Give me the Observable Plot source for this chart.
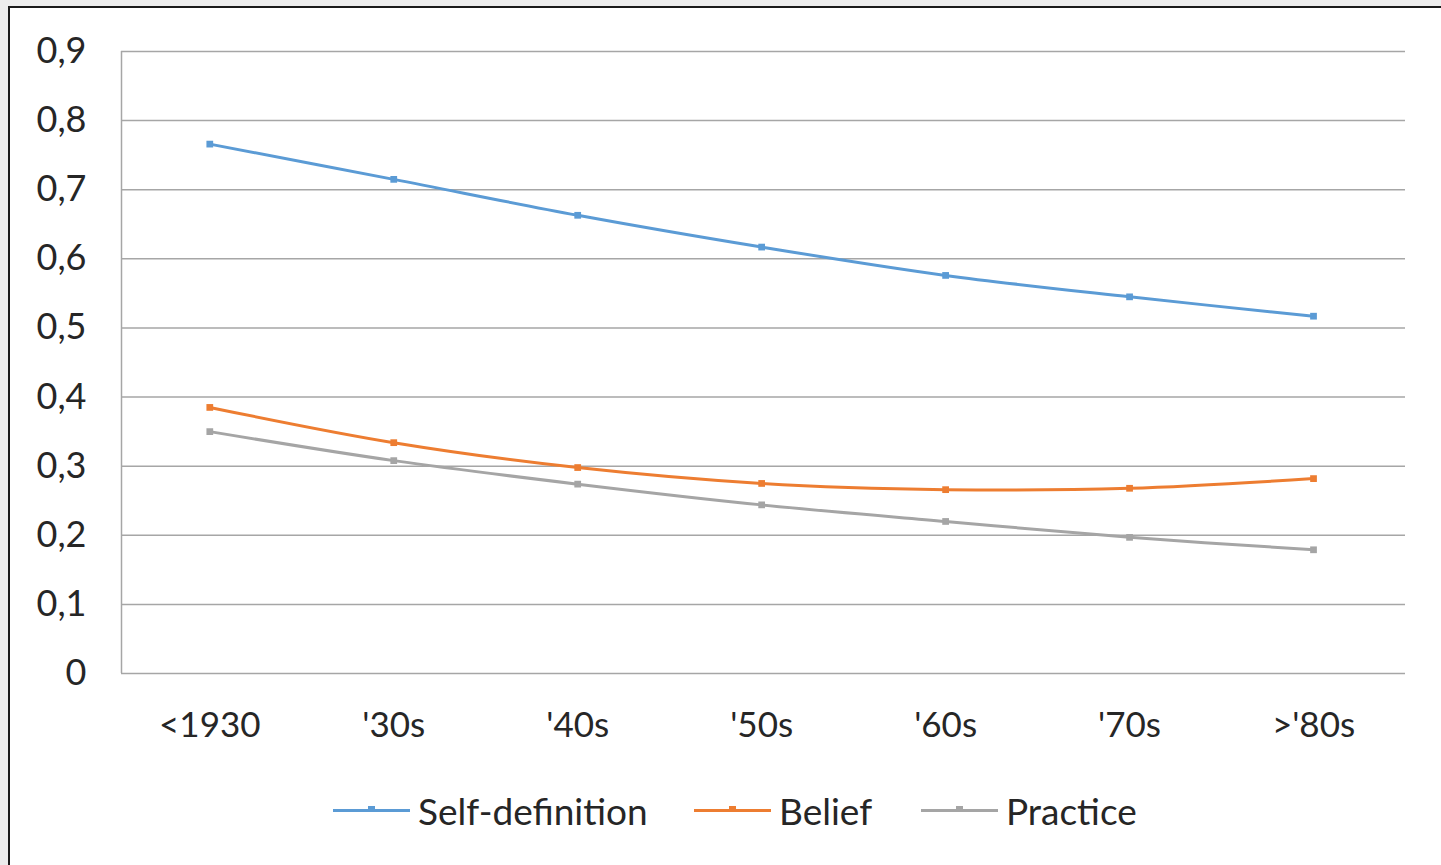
<!DOCTYPE html>
<html><head><meta charset="utf-8">
<script src="https://cdn.jsdelivr.net/npm/d3@7"></script>
<script src="https://cdn.jsdelivr.net/npm/@observablehq/plot@0.6"></script>
<style>
html,body{margin:0;padding:0;background:#ececec;width:1441px;height:865px;overflow:hidden;font-family:Lato,"Open Sans",sans-serif;}
#frame{position:absolute;left:8px;top:6px;width:1433px;height:859px;background:#fff;border-top:2px solid #1a1a1a;border-left:2px solid #1a1a1a;box-sizing:border-box;}
#chart{position:absolute;left:0;top:0;}
#legend{position:absolute;left:0;top:786px;width:1441px;height:48px;}
.item{position:absolute;top:0;height:48px;display:flex;align-items:center;font-size:37px;color:#262626;}
.sw{position:relative;width:77px;height:3px;margin-right:8px;}
.sw i{position:absolute;left:35px;top:-3px;width:7px;height:6px;}
</style></head><body>
<div id="frame"></div>
<div id="chart"></div>
<div id="legend"></div>
<script>
const categories = ["<1930", "'30s", "'40s", "'50s", "'60s", "'70s", ">'80s"];
const seriesNames = ["Self-definition", "Belief", "Practice"];
const selfDefinition = [0.766, 0.715, 0.663, 0.617, 0.576, 0.545, 0.517];
const belief = [0.385, 0.334, 0.298, 0.275, 0.266, 0.268, 0.282];
const practice = [0.350, 0.308, 0.274, 0.244, 0.220, 0.197, 0.179];
const yTicks = [0, 0.1, 0.2, 0.3, 0.4, 0.5, 0.6, 0.7, 0.8, 0.9];
const colors = ["#5B9BD5", "#ED7D31", "#A5A5A5"];

const valuesBySeries = [selfDefinition, belief, practice];
const data = [];
seriesNames.forEach((s, si) => valuesBySeries[si].forEach((v, i) => data.push({series: s, idx: i + 0.5, value: v})));
const xTicks = categories.map((c, i) => i + 0.5);

const chart = Plot.plot({
  width: 1441,
  height: 770,
  marginLeft: 121,
  marginRight: 36,
  marginTop: 51,
  marginBottom: 97,
  style: {background: "transparent", fontFamily: "Lato, 'Open Sans', sans-serif", fontSize: "35px", color: "#262626"},
  x: {domain: [0.02, categories.length], label: null},
  y: {domain: [0, 0.9], label: null},
  color: {domain: seriesNames, range: colors},
  marks: [
    Plot.gridY(yTicks, {stroke: "#a6a6a6", strokeOpacity: 1, strokeWidth: 1.5}),
    Plot.ruleX([0.02], {stroke: "#a6a6a6", strokeWidth: 1.5}),
    Plot.axisX({ticks: xTicks, tickFormat: d => categories[Math.floor(d)], tickSize: 0, tickPadding: 39, label: null, fontSize: 35}),
    Plot.axisY({ticks: yTicks, tickFormat: d => String(d).replace(".", ","), tickSize: 0, tickPadding: 35, label: null, fontSize: 36}),
    Plot.line(data, {x: "idx", y: "value", z: "series", stroke: "series", strokeWidth: 3, curve: "catmull-rom"}),
    Plot.dot(data, {x: "idx", y: "value", fill: "series", symbol: "square", r: 3.8})
  ]
});
document.getElementById("chart").appendChild(chart);

const legend = document.getElementById("legend");
const lefts = [333, 694, 921];
seriesNames.forEach((s, i) => {
  const it = document.createElement("div");
  it.className = "item";
  it.style.left = lefts[i] + "px";
  it.innerHTML = `<span class="sw" style="background:${colors[i]}"><i style="background:${colors[i]}"></i></span><span>${s}</span>`;
  legend.appendChild(it);
});
</script>
</body></html>
